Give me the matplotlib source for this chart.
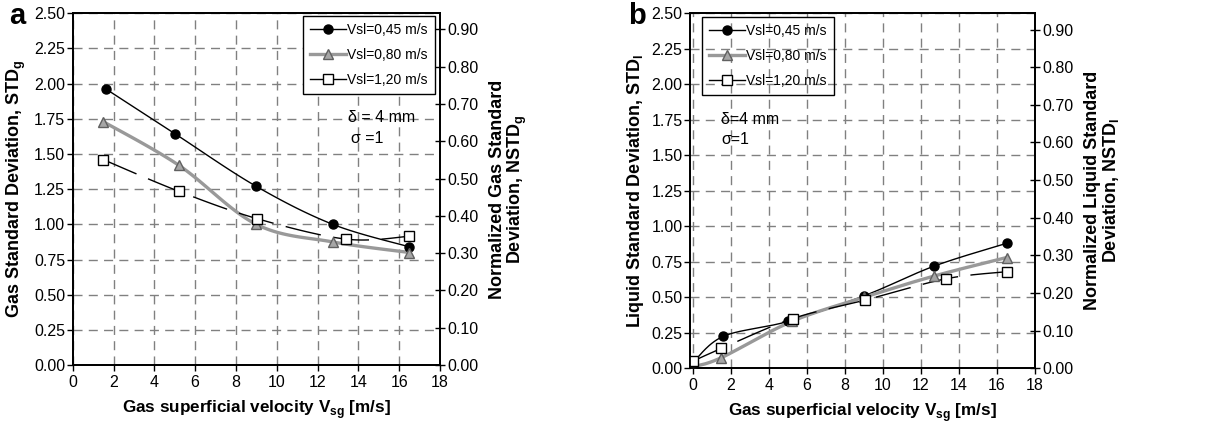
import numpy as np
import matplotlib
matplotlib.use("Agg")
import matplotlib.pyplot as plt

plt.rcParams['font.family'] = ['Liberation Sans', 'DejaVu Sans']
plt.rcParams['mathtext.fontset'] = 'custom'
plt.rcParams['mathtext.rm'] = 'Liberation Sans'
plt.rcParams['mathtext.bf'] = 'Liberation Sans:bold'

# datos panel a (gas)
xa_045 = [1.65, 5.0, 9.0, 12.75, 16.5]
ya_045 = [1.96, 1.645, 1.27, 1.00, 0.84]
xa_080 = [1.5, 5.2, 9.0, 12.75, 16.5]
ya_080 = [1.73, 1.42, 1.00, 0.875, 0.80]
xa_120 = [1.5, 5.2, 9.05, 13.4, 16.5]
ya_120 = [1.46, 1.235, 1.04, 0.895, 0.915]

# datos panel b (liquido)
xb_045 = [0.0, 1.6, 5.0, 9.0, 12.7, 16.5]
yb_045 = [0.04, 0.225, 0.33, 0.51, 0.72, 0.88]
xb_080 = [0.0, 1.5, 5.2, 9.0, 12.7, 16.5]
yb_080 = [0.01, 0.075, 0.33, 0.50, 0.65, 0.78]
xb_120 = [0.0, 1.5, 5.25, 9.05, 13.3, 16.5]
yb_120 = [0.05, 0.14, 0.35, 0.48, 0.63, 0.68]

etiquetas = ['Vsl=0,45 m/s', 'Vsl=0,80 m/s', 'Vsl=1,20 m/s']
ticks_izq = np.arange(0, 2.51, 0.25)
ticks_der = np.arange(0, 0.91, 0.10)
ticks_x = np.arange(0, 19, 2)


def suavizar(x, y, n=30):
    # curva suave tipo Excel (Catmull-Rom / Bezier)
    p = np.column_stack([x, y]).astype(float)
    ext = np.vstack([p[0], p, p[-1]])
    pts = []
    t = np.linspace(0, 1, n)[:, None]
    for i in range(1, len(ext) - 2):
        p0, p1, p2, p3 = ext[i - 1], ext[i], ext[i + 1], ext[i + 2]
        c1 = p1 + (p2 - p0) / 6
        c2 = p2 - (p3 - p1) / 6
        seg = ((1 - t) ** 3) * p1 + 3 * ((1 - t) ** 2) * t * c1 + 3 * (1 - t) * t ** 2 * c2 + t ** 3 * p2
        pts.append(seg)
    pts = np.vstack(pts)
    return pts[:, 0], pts[:, 1]


def panel(ax, series, xlim, ylab, ylab2, leg_box, textos, leg_fondo):
    estilos = [
        dict(color='black', lw=1.0, marker='o', mfc='black', mec='black', ms=6.5),
        dict(color='#999999', lw=2.4, marker='^', mfc='#a6a6a6', mec='#606060', ms=7.5),
        dict(color='black', lw=1.0, marker='s', mfc='white', mec='black', ms=7.5, dashes=(26, 9)),
    ]
    handles = []
    for (x, y), est, lab in zip(series, estilos, etiquetas):
        sx, sy = suavizar(x, y)
        lkw = {k: v for k, v in est.items() if k in ('color', 'lw', 'dashes')}
        ax.plot(sx, sy, zorder=3, **lkw)
        ax.plot(x, y, ls='none', marker=est['marker'], mfc=est['mfc'], mec=est['mec'],
                ms=est['ms'], mew=1.0, zorder=4)
        h, = ax.plot([], [], color=est['color'], lw=est['lw'], marker=est['marker'],
                     mfc=est['mfc'], mec=est['mec'], ms=est['ms'], mew=1.0, label=lab)
        handles.append(h)
    ax.set_xlim(*xlim)
    ax.set_ylim(0, 2.5)
    ax.set_xticks(ticks_x)
    ax.set_yticks(ticks_izq)
    ax.set_yticklabels([f'{v:.2f}' for v in ticks_izq])
    ax.grid(True, color='#808080', lw=1.0, dashes=(6.5, 4.5))
    ax.set_axisbelow(True)
    ax.tick_params(labelsize=11.5, direction='out', length=4, width=1, pad=3)
    ax.tick_params(axis='y', pad=1.5)
    for s in ax.spines.values():
        s.set_linewidth(1.3)
    ax.set_xlabel(r'Gas superficial velocity V$_{\mathbf{sg}}$ [m/s]', fontsize=12.3,
                  fontweight='bold', labelpad=6)
    ax.set_ylabel(ylab, fontsize=13, fontweight='bold', labelpad=4)

    ax2 = ax.twinx()
    ax2.set_ylim(0, 0.943)
    ax2.set_yticks(ticks_der)
    ax2.set_yticklabels([f'{v:.2f}' for v in ticks_der])
    ax2.tick_params(labelsize=11.5, direction='inout', length=7, width=1, pad=1.5)
    ax2.set_ylabel(ylab2, fontsize=13, fontweight='bold', rotation=90, labelpad=8,
                   linespacing=1.0)
    for s in ax2.spines.values():
        s.set_linewidth(1.3)

    leg = ax.legend(handles=handles, loc='upper left', bbox_to_anchor=leg_box,
                    fontsize=10, frameon=True, fancybox=False, edgecolor='black',
                    facecolor=leg_fondo, framealpha=1, handlelength=2.6, handletextpad=0.1,
                    borderpad=0.5, labelspacing=0.8, borderaxespad=0)
    leg.get_frame().set_linewidth(1.0)
    leg.set_zorder(5)

    for (tx, ty, s) in textos:
        ax.text(tx, ty, s, fontsize=11.5)


fig = plt.figure(figsize=(12.10, 4.24), dpi=100)
ax_a = fig.add_axes([0.0601, 0.139, 0.3035, 0.8296])
ax_b = fig.add_axes([0.5703, 0.1314, 0.2851, 0.8372])

panel(ax_a, [(xa_045, ya_045), (xa_080, ya_080), (xa_120, ya_120)], (0, 18),
      r'Gas Standard Deviation, STD$_{\mathbf{g}}$',
      'Normalized Gas Standard\n' + r'Deviation, NSTD$_{\mathbf{g}}$',
      (0.627, 0.992), [(13.5, 1.73, 'δ = 4 mm'), (13.65, 1.58, 'σ =1')], 'white')
panel(ax_b, [(xb_045, yb_045), (xb_080, yb_080), (xb_120, yb_120)], (-0.15, 18),
      r'Liquid Standard Deviation, STD$_{\mathbf{l}}$',
      'Normalized Liquid Standard\n' + r'Deviation, NSTD$_{\mathbf{l}}$',
      (0.034, 0.99), [(1.5, 1.72, 'δ=4 mm'), (1.5, 1.58, 'σ=1')], 'none')

fig.text(17 / 1210, 1 - 16 / 424, 'a', fontsize=21, fontweight='bold', ha='center', va='center')
fig.text(637 / 1210, 1 - 16 / 424, 'b', fontsize=21, fontweight='bold', ha='center', va='center')

fig.savefig('out.png', dpi=100)
